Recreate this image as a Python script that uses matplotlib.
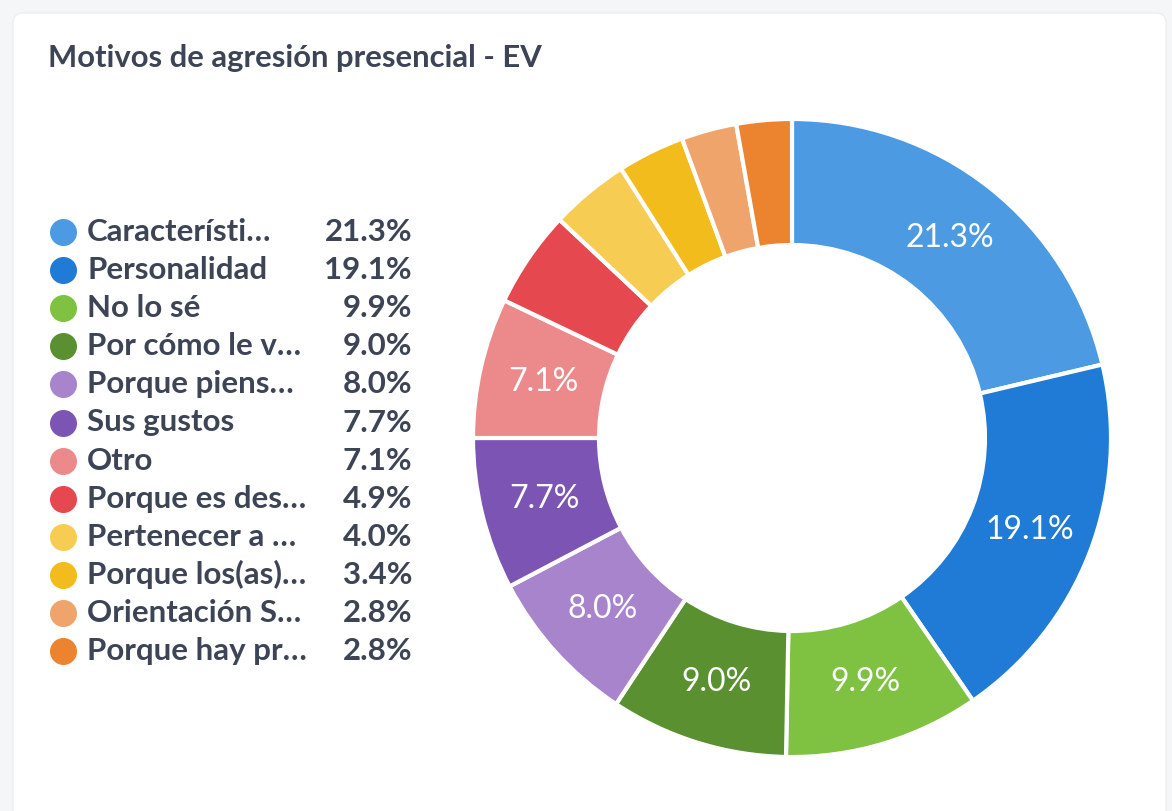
import matplotlib
matplotlib.use("Agg")
import matplotlib.pyplot as plt
from matplotlib.patches import FancyBboxPatch
import numpy as np

# data
categorias = ["Característi…", "Personalidad", "No lo sé", "Por cómo le v…",
              "Porque piens…", "Sus gustos", "Otro", "Porque es des…",
              "Pertenecer a …", "Porque los(as)…", "Orientación S…",
              "Porque hay pr…"]
porcentajes = [21.3, 19.1, 9.9, 9.0, 8.0, 7.7, 7.1, 4.9, 4.0, 3.4, 2.8, 2.8]
colores = ["#4c9be2", "#1f7bd5", "#7fc241", "#5b9030", "#a784cb", "#7c55b4",
           "#ec8a8b", "#e5484f", "#f6cd52", "#f2bd1c", "#eea46b", "#ec832f"]

plt.rcParams['font.family'] = ['Lato', 'DejaVu Sans']
texto = "#3d4455"

W, H = 1172, 811
fig = plt.figure(figsize=(W / 100, H / 100), dpi=100)
fig.patch.set_facecolor("#f5f6f7")

# background axes in pixel coords
bg = fig.add_axes([0, 0, 1, 1])
bg.set_xlim(0, W)
bg.set_ylim(H, 0)
bg.axis("off")
card = FancyBboxPatch((13, 13), 1153, 820, boxstyle="round,pad=0,rounding_size=10",
                      facecolor="white", edgecolor="#eeeeee", linewidth=1)
bg.add_patch(card)

bg.text(48, 58, "Motivos de agresión presencial - EV", fontsize=22.3,
        color=texto, ha="left", va="center", fontweight="bold")

# legend
y0, paso = 232, 38.1
for i, (cat, p, c) in enumerate(zip(categorias, porcentajes, colores)):
    y = y0 + paso * i
    bg.scatter(63, y, s=340, color=c, zorder=3)
    bg.text(87, y, cat, fontsize=22.5, color=texto, ha="left", va="center",
            fontweight="bold")
    bg.text(412, y, f"{p:.1f}%", fontsize=22.5, color=texto, ha="right",
            va="center", fontweight="bold")

# donut
cx, cy, R = 792, 438, 319
ax = fig.add_axes([(cx - R) / W, (H - cy - R) / H, 2 * R / W, 2 * R / H])
wedges, _ = ax.pie(porcentajes, colors=colores, startangle=90, counterclock=False,
                   radius=1, wedgeprops=dict(width=0.395, edgecolor="white",
                                             linewidth=3))
for w, p in zip(wedges, porcentajes):
    mid = np.deg2rad((w.theta1 + w.theta2) / 2)
    if p >= 5:
        ax.text(0.80 * np.cos(mid), 0.80 * np.sin(mid), f"{p:.1f}%",
                fontsize=23, color="white", ha="center", va="center")
ax.set_xlim(-1, 1)
ax.set_ylim(-1, 1)
ax.set_aspect("equal")
ax.axis("off")

fig.savefig("out.png", dpi=100, facecolor=fig.get_facecolor())
